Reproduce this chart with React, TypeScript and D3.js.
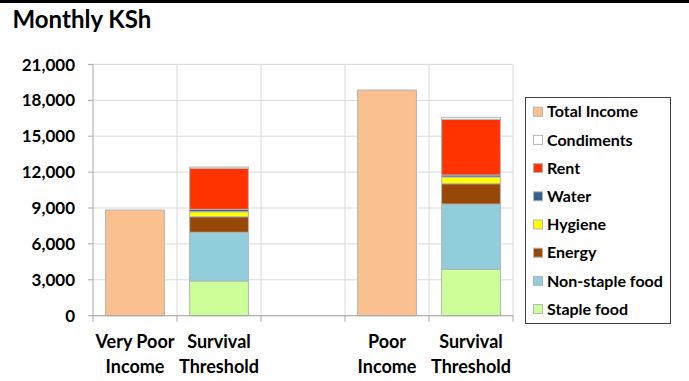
import React from "react";
import * as d3 from "d3";

// Column slots along the x axis (the empty slot separates the two groups)
const categories = ["Very Poor|Income", "Survival|Threshold", "", "Poor|Income", "Survival|Threshold"];

// Monthly amounts in KSh, one value per slot
const stapleFood = [0, 2900, 0, 0, 3880];
const nonStapleFood = [0, 4070, 0, 0, 5450];
const energy = [0, 1300, 0, 0, 1700];
const hygiene = [0, 420, 0, 0, 560];
const water = [0, 200, 0, 0, 170];
const rent = [0, 3425, 0, 0, 4650];
const condiments = [0, 110, 0, 0, 170];
const totalIncome = [8830, 0, 0, 18860, 0];

const yTicks = [0, 3000, 6000, 9000, 12000, 15000, 18000, 21000];

// Stack order, bottom to top
const seriesNames = ["Staple food", "Non-staple food", "Energy", "Hygiene", "Water", "Rent", "Condiments", "Total Income"];
const seriesValues = [stapleFood, nonStapleFood, energy, hygiene, water, rent, condiments, totalIncome];
const seriesColors = ["#CCFF99", "#92CDDC", "#974706", "#FFFF00", "#366092", "#FF3300", "#FFFFFF", "#FAC090"];

const W = 689;
const H = 381;
const FONT = "Lato, 'Open Sans', sans-serif";

export default function App() {
  const plotLeft = 93;
  const plotRight = 513;
  const plotTop = 64.4;
  const plotBottom = 315.7;

  const x = d3.scaleBand<number>()
    .domain(d3.range(categories.length))
    .range([plotLeft, plotRight])
    .paddingInner(0.3)
    .paddingOuter(0.15);
  const step = x.step();

  const y = d3.scaleLinear().domain([0, 21000]).range([plotBottom, plotTop]);

  const rows = categories.map((_, i) => {
    const r: Record<string, number> = {};
    seriesNames.forEach((n, s) => (r[n] = seriesValues[s][i]));
    return r;
  });
  const stacked = d3.stack<Record<string, number>>().keys(seriesNames)(rows);

  const boundaries = d3.range(categories.length + 1).map((k) => plotLeft + k * step);

  const legendOrder = [...seriesNames].reverse();

  return (
    <svg width={W} height={H} style={{ position: "absolute", left: 0, top: 0, background: "#fff" }} fontFamily={FONT}>
      <rect x={0} y={0} width={W} height={3} fill="#000" />
      <text x={12.5} y={28} fontSize={24} fontWeight="bold" fill="#000">Monthly KSh</text>

      {/* gridlines */}
      {yTicks.map((t) => (
        <line key={"h" + t} x1={plotLeft} x2={plotRight} y1={y(t)} y2={y(t)} stroke="#d9d9d9" strokeWidth={1} />
      ))}
      {boundaries.slice(1).map((bx, k) => (
        <line key={"v" + k} x1={bx} x2={bx} y1={plotTop} y2={plotBottom} stroke="#d9d9d9" strokeWidth={1} />
      ))}

      {/* bars */}
      {stacked.map((layer, s) => (
        <g key={seriesNames[s]}>
          {layer.map((d, i) =>
            d[1] - d[0] > 0 ? (
              <rect
                key={i}
                x={x(i)!}
                width={x.bandwidth()}
                y={y(d[1])}
                height={y(d[0]) - y(d[1])}
                fill={seriesColors[s]}
                stroke="#b4b4b4"
                strokeWidth={1}
              />
            ) : null
          )}
        </g>
      ))}

      {/* axes */}
      <line x1={plotLeft} x2={plotLeft} y1={plotTop} y2={plotBottom} stroke="#a6a6a6" />
      <line x1={plotLeft} x2={plotRight} y1={plotBottom} y2={plotBottom} stroke="#a6a6a6" />
      {yTicks.map((t) => (
        <g key={"yt" + t}>
          <line x1={plotLeft - 5} x2={plotLeft} y1={y(t)} y2={y(t)} stroke="#a6a6a6" />
          <text x={75} y={y(t)} dy="0.36em" textAnchor="end" fontSize={17} fontWeight="bold" fill="#000">
            {d3.format(",")(t)}
          </text>
        </g>
      ))}
      {boundaries.map((bx, k) => (
        <line key={"xt" + k} x1={bx} x2={bx} y1={plotBottom} y2={plotBottom + 6} stroke="#a6a6a6" />
      ))}
      {categories.map((c, i) =>
        c ? (
          <text key={"xl" + i} textAnchor="middle" fontSize={18} fontWeight="bold" fill="#000">
            {c.split("|").map((line, j) => (
              <tspan key={j} x={x(i)! + x.bandwidth() / 2} y={347.5 + j * 25.5}>{line}</tspan>
            ))}
          </text>
        ) : null
      )}

      {/* legend */}
      <rect x={525.5} y={97.5} width={145} height={226} fill="#fff" stroke="#404040" strokeWidth={1} />
      {legendOrder.map((n, k) => {
        const s = seriesNames.indexOf(n);
        const cy = 111.7 + k * 28.2;
        return (
          <g key={"lg" + n}>
            <rect x={533.5} y={cy - 4.5} width={9} height={9} fill={seriesColors[s]} stroke="#b4b4b4" />
            <text x={547} y={cy} dy="0.36em" fontSize={16} fontWeight="bold" fill="#000">{n}</text>
          </g>
        );
      })}
    </svg>
  );
}
